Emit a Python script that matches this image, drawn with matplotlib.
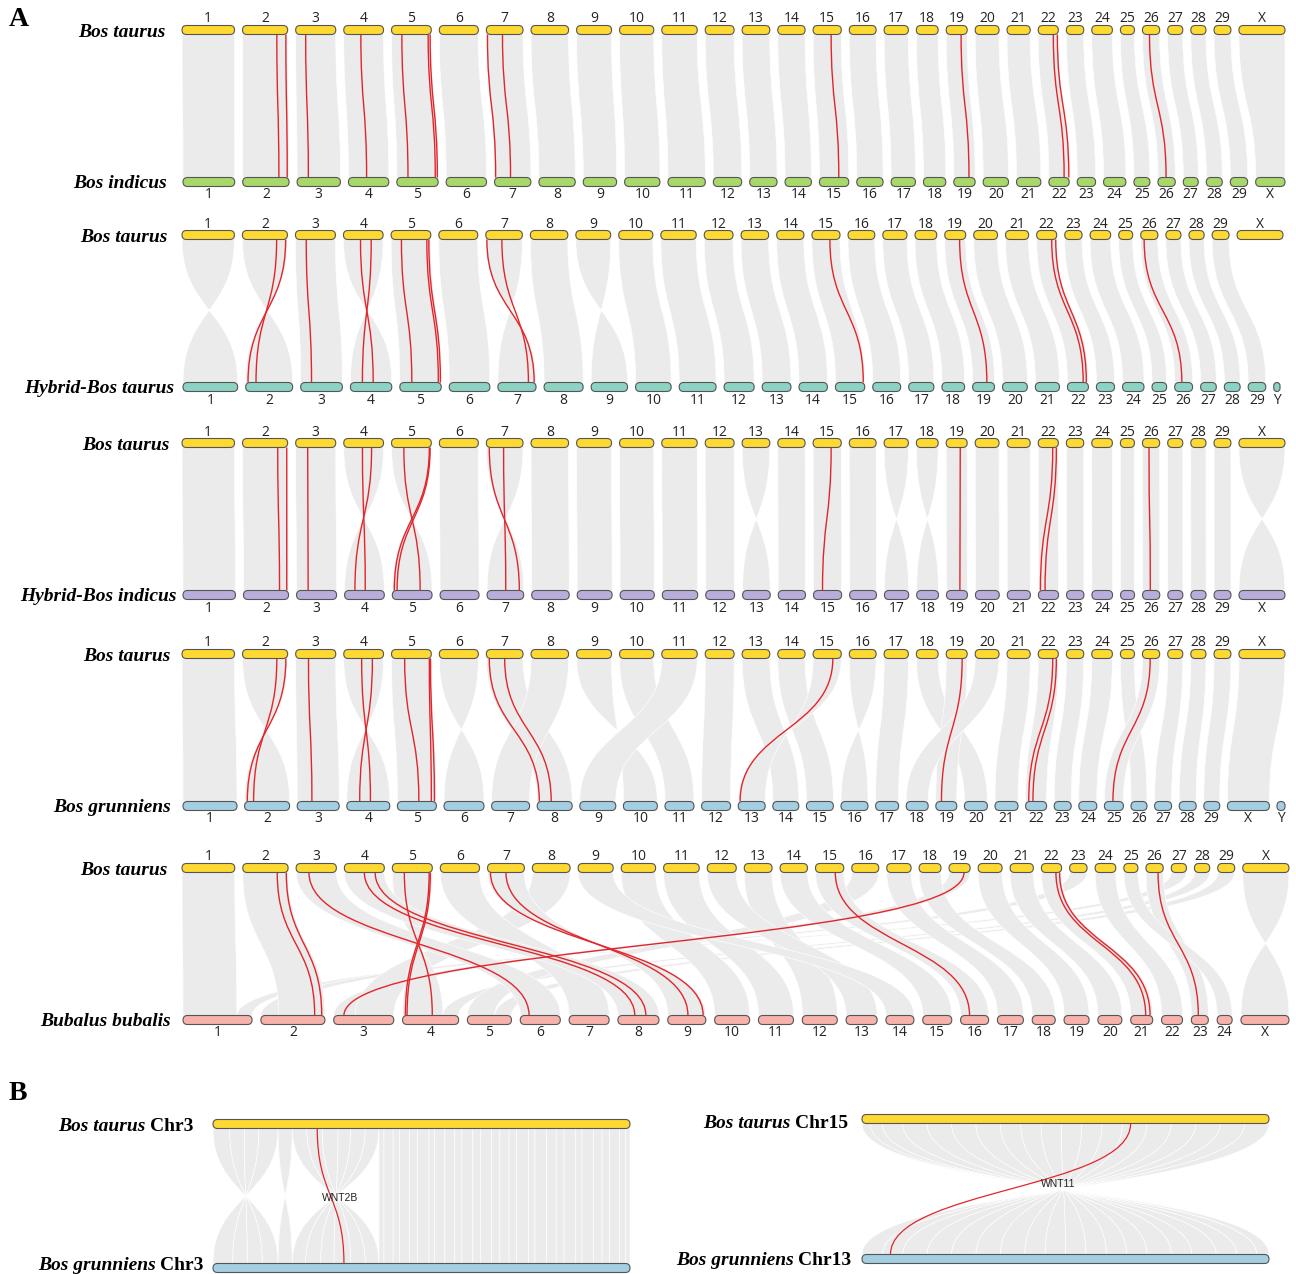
import numpy as np
import matplotlib
matplotlib.use("Agg")
import matplotlib.pyplot as plt
from matplotlib.path import Path
from matplotlib.patches import PathPatch, FancyBboxPatch

SERIF = "Liberation Serif"
SANS = "Open Sans"

# karyotypes: chromosome names and lengths (Mb)
taurus_chr = ["1", "2", "3", "4", "5", "6", "7", "8", "9", "10", "11", "12", "13", "14", "15",
              "16", "17", "18", "19", "20", "21", "22", "23", "24", "25", "26", "27", "28", "29", "X"]
taurus_len = [158.5, 136.2, 121.0, 120.0, 120.1, 117.8, 110.7, 113.3, 105.5, 103.3, 107.0, 87.2,
              83.5, 82.4, 85.0, 81.0, 73.2, 65.8, 63.4, 72.0, 69.9, 60.8, 52.5, 62.3, 42.4, 52.0,
              45.6, 45.9, 51.1, 139.0]

indicus_chr = taurus_chr
indicus_len = [155, 139, 130, 121, 124, 121, 109, 109, 100, 106, 112, 85, 82, 79, 88, 79, 73, 67,
               64, 76, 73, 61, 55, 67, 48, 52, 45, 48, 52, 88]

hyb_taurus_chr = taurus_chr[:29] + ["Y"]
hyb_taurus_len = taurus_len[:29] + [18.0]

hyb_indicus_chr = taurus_chr
hyb_indicus_len = taurus_len

yak_chr = taurus_chr + ["Y"]
yak_len = [162, 135, 126, 129, 117, 120, 114, 105, 108, 102, 87, 87, 81, 78, 81, 81, 69, 66, 63,
           69, 69, 63, 51, 54, 57, 48, 51, 51, 48, 126, 24]

buffalo_chr = ["1", "2", "3", "4", "5", "6", "7", "8", "9", "10", "11", "12", "13", "14", "15",
               "16", "17", "18", "19", "20", "21", "22", "23", "24", "X"]
buffalo_len = [207, 192, 180, 168, 132, 120, 120, 123, 114, 105, 105, 105, 93, 84, 87, 84, 78, 69,
               75, 72, 66, 63, 51, 45, 144]

# chromosomes carried over with an inversion
inv_indicus = []
inv_hyb_taurus = ["1", "2", "4", "7", "9"]
inv_hyb_indicus = ["4", "5", "7", "13", "17", "18", "X"]

# collinear blocks: (taurus chr, other chr, taurus from, taurus to, other from, other to)
yak_blocks = [("1", "1", 0, 1, 0, 1), ("2", "2", 0, 1, 1, 0), ("3", "3", 0, 1, 0, 1),
              ("4", "4", 0, 1, 1, 0), ("5", "5", 0, 1, 0, 1), ("6", "6", 0, 1, 1, 0),
              ("7", "8", 0, 1, 0, 1), ("8", "7", 0, 1, 0, 1), ("9", "10", 0, 1, 1, 0),
              ("10", "11", 0, 1, 0, 1), ("11", "9", 0, 1, 0, 1), ("12", "12", 0, 1, 0, 1),
              ("13", "14", 0, 1, 0, 1), ("14", "15", 0, 1, 0, 1), ("15", "13", 0, 1, 1, 0),
              ("16", "16", 0, 1, 1, 0), ("17", "17", 0, 1, 0, 1), ("18", "20", 0, 1, 0, 1),
              ("19", "19", 0, 1, 0, 1), ("20", "18", 0, 1, 0, 1), ("21", "21", 0, 1, 0, 1),
              ("22", "22", 0, 1, 0, 1), ("23", "23", 0, 1, 0, 1), ("24", "24", 0, 1, 0, 1),
              ("25", "26", 0, 1, 0, 1), ("26", "25", 0, 1, 0, 1), ("27", "27", 0, 1, 0, 1),
              ("28", "28", 0, 1, 0, 1), ("29", "29", 0, 1, 0, 1), ("X", "X", 0, 1, 0, 1)]

buffalo_blocks = [("1", "1", 0, 1, 0, 0.78), ("27", "1", 0, 1, 0.78, 1),
                  ("23", "2", 0, 1, 0, 0.28), ("2", "2", 0, 1, 0.28, 1),
                  ("19", "3", 0, 1, 0, 0.36), ("8", "3", 0, 1, 0.36, 1),
                  ("5", "4", 0, 1, 0.72, 0), ("28", "4", 0, 1, 0.72, 1),
                  ("16", "5", 0, 1, 0, 0.62), ("29", "5", 0, 1, 0.62, 1),
                  ("3", "6", 0, 1, 0, 1), ("6", "7", 0, 1, 0, 1), ("4", "8", 0, 1, 0, 1),
                  ("7", "9", 0, 1, 1, 0), ("10", "10", 0, 1, 0, 1), ("11", "11", 0, 1, 0, 1),
                  ("13", "12", 0, 1, 0, 1), ("12", "13", 0, 1, 0, 1), ("9", "14", 0, 1, 0, 1),
                  ("14", "15", 0, 1, 0, 1), ("15", "16", 0, 1, 0, 1), ("17", "17", 0, 1, 0, 1),
                  ("18", "18", 0, 1, 0, 1), ("20", "19", 0, 1, 0, 1), ("21", "20", 0, 1, 0, 1),
                  ("22", "21", 0, 1, 0, 1), ("24", "22", 0, 1, 0, 1), ("26", "23", 0, 1, 0, 1),
                  ("25", "24", 0, 1, 0, 1), ("X", "X", 0, 1, 1, 0)]

# WNT gene pairs: (taurus chr, position, other chr, position)
wnt_indicus = [("2", 0.76, "2", 0.78), ("2", 0.96, "2", 0.96), ("3", 0.25, "3", 0.26),
               ("4", 0.43, "4", 0.45), ("5", 0.26, "5", 0.27), ("5", 0.92, "5", 0.93),
               ("5", 0.97, "5", 0.98), ("7", 0.03, "7", 0.03), ("7", 0.44, "7", 0.44),
               ("15", 0.64, "15", 0.66), ("19", 0.71, "19", 0.71), ("22", 0.75, "22", 0.75),
               ("22", 0.95, "22", 0.98), ("26", 0.41, "26", 0.47)]
wnt_hyb_taurus = [("2", 0.76, "2", 0.22), ("2", 0.96, "2", 0.05), ("3", 0.27, "3", 0.26),
                  ("4", 0.43, "4", 0.55), ("4", 0.70, "4", 0.29), ("5", 0.26, "5", 0.29),
                  ("5", 0.90, "5", 0.93), ("5", 0.95, "5", 0.98), ("7", 0.03, "7", 0.95),
                  ("7", 0.44, "7", 0.80), ("15", 0.64, "15", 0.95), ("19", 0.71, "19", 0.65),
                  ("22", 0.75, "22", 0.75), ("22", 0.95, "22", 0.90), ("26", 0.20, "26", 0.40)]
wnt_hyb_indicus = [("2", 0.78, "2", 0.80), ("2", 0.98, "2", 0.96), ("3", 0.30, "3", 0.29),
                   ("4", 0.47, "4", 0.52), ("4", 0.70, "4", 0.26), ("5", 0.31, "5", 0.70),
                   ("5", 0.95, "5", 0.05), ("5", 0.97, "5", 0.12), ("7", 0.08, "7", 0.88),
                   ("7", 0.47, "7", 0.51), ("15", 0.64, "15", 0.32), ("19", 0.67, "19", 0.64),
                   ("22", 0.72, "22", 0.10), ("22", 0.90, "22", 0.33), ("26", 0.38, "26", 0.45)]
wnt_yak = [("2", 0.76, "2", 0.20), ("2", 0.96, "2", 0.06), ("3", 0.32, "3", 0.35),
           ("4", 0.45, "4", 0.55), ("4", 0.72, "4", 0.30), ("5", 0.33, "5", 0.55),
           ("5", 0.95, "5", 0.87), ("5", 0.98, "5", 0.95), ("7", 0.08, "8", 0.06),
           ("7", 0.50, "8", 0.40), ("15", 0.70, "13", 0.07), ("19", 0.76, "19", 0.27),
           ("22", 0.72, "22", 0.15), ("22", 0.90, "22", 0.35), ("26", 0.45, "25", 0.45)]
wnt_buffalo = [("2", 0.76, "2", 0.84), ("2", 0.96, "2", 0.95), ("3", 0.32, "6", 0.22),
               ("4", 0.50, "8", 0.41), ("4", 0.77, "8", 0.68), ("5", 0.30, "4", 0.53),
               ("5", 0.92, "4", 0.05), ("5", 0.95, "4", 0.08), ("7", 0.08, "9", 0.93),
               ("7", 0.50, "9", 0.53), ("15", 0.70, "16", 0.32), ("19", 0.71, "3", 0.17),
               ("22", 0.72, "21", 0.68), ("22", 0.90, "21", 0.88), ("26", 0.70, "23", 0.41)]

# panel B: Chr3 vs yak Chr3 and Chr15 vs yak Chr13 (fractions of chromosome length)
chr3_blocks = [(0.0, 0.04, 0.156, 0.118), (0.04, 0.075, 0.118, 0.082), (0.075, 0.11, 0.082, 0.047),
               (0.11, 0.156, 0.047, 0.0),
               (0.156, 0.19, 0.19, 0.156),
               (0.19, 0.225, 0.398, 0.365), (0.225, 0.262, 0.365, 0.33), (0.262, 0.30, 0.33, 0.29),
               (0.30, 0.33, 0.29, 0.258), (0.33, 0.365, 0.258, 0.222), (0.365, 0.398, 0.222, 0.19),
               (0.398, 0.41, 0.398, 0.41), (0.41, 0.432, 0.41, 0.432), (0.432, 0.447, 0.432, 0.447),
               (0.447, 0.471, 0.447, 0.471), (0.471, 0.49, 0.471, 0.49), (0.49, 0.518, 0.49, 0.518),
               (0.518, 0.531, 0.518, 0.531), (0.531, 0.556, 0.531, 0.556), (0.556, 0.58, 0.556, 0.58),
               (0.58, 0.597, 0.58, 0.597), (0.597, 0.623, 0.597, 0.623), (0.623, 0.641, 0.623, 0.641),
               (0.641, 0.668, 0.641, 0.668), (0.668, 0.688, 0.668, 0.688), (0.688, 0.71, 0.688, 0.71),
               (0.71, 0.728, 0.71, 0.728), (0.728, 0.757, 0.728, 0.757), (0.757, 0.772, 0.757, 0.772),
               (0.772, 0.8, 0.772, 0.8), (0.8, 0.823, 0.8, 0.823), (0.823, 0.842, 0.823, 0.842),
               (0.842, 0.87, 0.842, 0.87), (0.87, 0.885, 0.87, 0.885), (0.885, 0.912, 0.885, 0.912),
               (0.912, 0.933, 0.912, 0.933), (0.933, 0.951, 0.933, 0.951), (0.951, 0.975, 0.951, 0.975),
               (0.975, 0.99, 0.975, 0.99), (0.99, 1.0, 0.99, 1.0)]
chr15_blocks = [(0.0, 0.05, 0.97, 0.92), (0.05, 0.1, 0.92, 0.87), (0.1, 0.16, 0.87, 0.81),
                (0.16, 0.22, 0.81, 0.76), (0.22, 0.28, 0.76, 0.70), (0.28, 0.34, 0.70, 0.65),
                (0.34, 0.39, 0.65, 0.60), (0.39, 0.44, 0.60, 0.55), (0.44, 0.49, 0.55, 0.50),
                (0.49, 0.54, 0.50, 0.45), (0.54, 0.59, 0.45, 0.40), (0.59, 0.64, 0.40, 0.34),
                (0.64, 0.70, 0.34, 0.28), (0.70, 0.76, 0.28, 0.22), (0.76, 0.82, 0.22, 0.16),
                (0.82, 0.88, 0.16, 0.10), (0.88, 0.94, 0.10, 0.05), (0.94, 1.0, 0.05, 0.0),
                (0.0, 0.02, 1.0, 0.97)]
wnt2b = (0.25, 0.314)
wnt11 = (0.66, 0.07)

C_TAURUS = "#fdd931"
RED = "#e3252b"
GREY = "#ebebeb"
H = 9.0


def layout(names, lengths, x0, x1, gap):
    lengths = np.asarray(lengths, float)
    scale = (x1 - x0 - gap * (len(lengths) - 1)) / lengths.sum()
    widths = lengths * scale
    starts = x0 + np.concatenate([[0.0], np.cumsum(widths[:-1] + gap)])
    return {n: (s, s + w) for n, s, w in zip(names, starts, widths)}


def bars(ax, pos, y, color, label_dy, numbers=True):
    for name, (a, b) in pos.items():
        w = b - a
        r = min(H / 2, w / 2)
        ax.add_patch(FancyBboxPatch((a, y - H / 2), w, H,
                                    boxstyle="round,pad=0,rounding_size=%.2f" % r,
                                    fc=color, ec="#555555", lw=0.8, zorder=4))
        if numbers:
            ax.text((a + b) / 2, y + label_dy, name, ha="center", va="center",
                    fontsize=10, family=SANS, color="#222222", zorder=5)


def ribbon(ax, xt0, xt1, xb0, xb1, yt, yb):
    ym = (yt + yb) / 2
    verts = [(xt0, yt), (xt1, yt), (xt1, ym), (xb1, ym), (xb1, yb),
             (xb0, yb), (xb0, ym), (xt0, ym), (xt0, yt), (xt0, yt)]
    codes = [Path.MOVETO, Path.LINETO, Path.CURVE4, Path.CURVE4, Path.CURVE4,
             Path.LINETO, Path.CURVE4, Path.CURVE4, Path.CURVE4, Path.CLOSEPOLY]
    ax.add_patch(PathPatch(Path(verts, codes), fc=GREY, ec="white", lw=0.45, zorder=1))


def link(ax, xt, xb, yt, yb, lw=1.0):
    ym = (yt + yb) / 2
    verts = [(xt, yt), (xt, ym), (xb, ym), (xb, yb)]
    codes = [Path.MOVETO, Path.CURVE4, Path.CURVE4, Path.CURVE4]
    ax.add_patch(PathPatch(Path(verts, codes), fc="none", ec=RED, lw=lw, zorder=3))


def frac(pos, name, f):
    a, b = pos[name]
    return a + f * (b - a)


def one_to_one(names, inverted):
    return [(c, c, 0, 1, 1, 0) if c in inverted else (c, c, 0, 1, 0, 1) for c in names]


def species(ax, x, y, italic, plain=None):
    kw = dict(ha="right", va="baseline", fontsize=14, family=SERIF, weight="bold", zorder=5)
    if plain is None:
        ax.text(x, y, italic, style="italic", **kw)
        return
    t = ax.text(x, y, plain, **kw)
    bb = t.get_window_extent(ax.figure.canvas.get_renderer())
    left = ax.transData.inverted().transform((bb.x0, bb.y0))[0]
    ax.text(left - 4, y, italic, style="italic", **kw)


fig = plt.figure(figsize=(12.96, 12.74), dpi=100)
ax = fig.add_axes([0, 0, 1, 1])
ax.set_xlim(0, 1296)
ax.set_ylim(1274, 0)
ax.axis("off")

rows = [
    dict(y=(30, 182), top_x1=1285, names=indicus_chr, lens=indicus_len, span=(183, 1285, 8),
         color="#a8d86a", label="Bos indicus", lx=(166, 167),
         blocks=one_to_one(taurus_chr, inv_indicus), links=wnt_indicus),
    dict(y=(235, 387), top_x1=1283, names=hyb_taurus_chr, lens=hyb_taurus_len, span=(183, 1280, 8),
         color="#8dd3c4", label="Hybrid-Bos taurus", lx=(168, 174),
         blocks=one_to_one(taurus_chr[:29], inv_hyb_taurus), links=wnt_hyb_taurus),
    dict(y=(443, 595), top_x1=1285, names=hyb_indicus_chr, lens=hyb_indicus_len, span=(183, 1285, 8),
         color="#b9aedb", label="Hybrid-Bos indicus", lx=(170, 177),
         blocks=one_to_one(taurus_chr, inv_hyb_indicus), links=wnt_hyb_indicus),
    dict(y=(654, 806), top_x1=1285, names=yak_chr, lens=yak_len, span=(183, 1285, 7.6),
         color="#a4cee2", label="Bos grunniens", lx=(171, 171),
         blocks=yak_blocks, links=wnt_yak),
    dict(y=(868, 1020), top_x1=1289, names=buffalo_chr, lens=buffalo_len, span=(183, 1289, 8.8),
         color="#f8b2ac", label="Bubalus bubalis", lx=(168, 171),
         blocks=buffalo_blocks, links=wnt_buffalo),
]

for row in rows:
    yt, yb = row["y"]
    top = layout(taurus_chr, taurus_len, 182, row["top_x1"], 8)
    x0, x1, gap = row["span"]
    bot = layout(row["names"], row["lens"], x0, x1, gap)
    for tc, bc, ta, tb, ba, bb in row["blocks"]:
        ribbon(ax, frac(top, tc, ta), frac(top, tc, tb), frac(bot, bc, ba), frac(bot, bc, bb),
               yt + H / 2, yb - H / 2)
    for tc, tf, bc, bf in row["links"]:
        link(ax, frac(top, tc, tf), frac(bot, bc, bf), yt + H / 2, yb - H / 2)
    bars(ax, top, yt, C_TAURUS, -11)
    bars(ax, bot, yb, row["color"], 13)
    species(ax, row["lx"][0], yt + 7, "Bos taurus")
    species(ax, row["lx"][1], yb + 6, row["label"])

# panel B
pairs_b = [
    dict(x=(213, 630), y=(1124, 1268), blocks=chr3_blocks, gene=wnt2b, name="WNT2B",
         gene_xy=(340, 1198), labels=((193, 1131, "Chr3"), (203, 1270, "Chr3"))),
    dict(x=(862, 1269), y=(1119, 1259), blocks=chr15_blocks, gene=wnt11, name="WNT11",
         gene_xy=(1058, 1184), labels=((848, 1128, "Chr15"), (851, 1265, "Chr13"))),
]
for p in pairs_b:
    a, b = p["x"]
    yt, yb = p["y"]
    top = {"t": (a, b)}
    bot = {"b": (a, b)}
    for ta, tb, ba, bb in p["blocks"]:
        ribbon(ax, frac(top, "t", ta), frac(top, "t", tb), frac(bot, "b", ba), frac(bot, "b", bb),
               yt + H / 2, yb - H / 2)
    link(ax, frac(top, "t", p["gene"][0]), frac(bot, "b", p["gene"][1]), yt + H / 2, yb - H / 2, lw=0.9)
    bars(ax, top, yt, C_TAURUS, 0, numbers=False)
    bars(ax, bot, yb, "#a4cee2", 0, numbers=False)
    ax.text(p["gene_xy"][0], p["gene_xy"][1], p["name"], ha="center", va="center",
            fontsize=7.5, family="Liberation Sans", color="#222222", zorder=5)
    (lx1, ly1, c1), (lx2, ly2, c2) = p["labels"]
    species(ax, lx1, ly1, "Bos taurus", c1)
    species(ax, lx2, ly2, "Bos grunniens", c2)

ax.text(9, 20, "A", fontsize=20, family=SERIF, weight="bold", va="center", ha="left")
ax.text(9, 1094, "B", fontsize=20, family=SERIF, weight="bold", va="center", ha="left")

fig.savefig("out.png", dpi=100, facecolor="white")
